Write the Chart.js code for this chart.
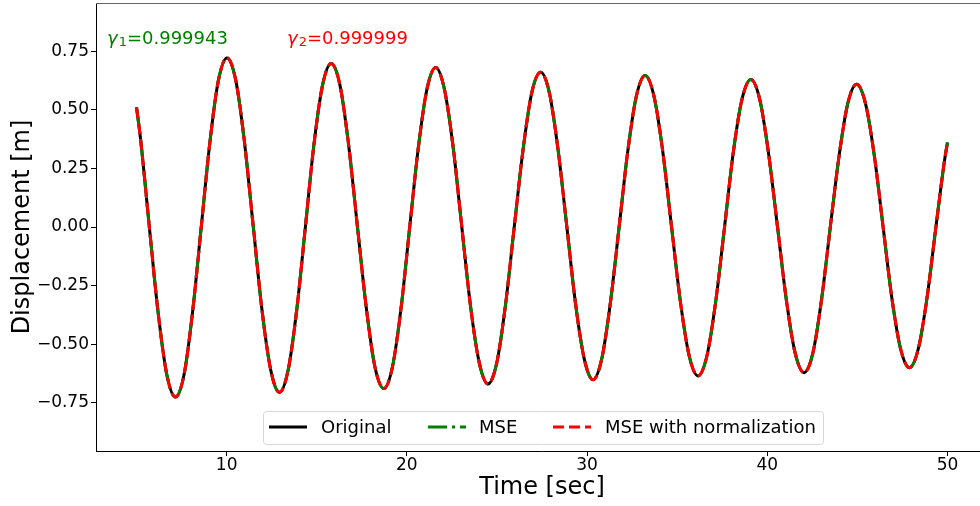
<!DOCTYPE html>
<html>
<head>
<meta charset="utf-8">
<script src="https://cdn.jsdelivr.net/npm/chart.js@4.4.1/dist/chart.umd.min.js"></script>
<style>
  html, body { margin: 0; padding: 0; background: #fff; overflow: hidden; width: 980px; height: 506px; }
  canvas { display: block; }
</style>
</head>
<body>
<canvas id="myChart" width="990" height="506"></canvas>
<script>
// values (peaks, troughs, zero crossings and points between)
const timeSec = [
  5.00, 5.23, 5.71, 6.19, 6.68, 7.16, 7.64, 8.11, 8.59, 9.07, 9.54, 10.02,
  10.51, 10.99, 11.48, 11.96, 12.45, 12.93, 13.41, 13.89, 14.37, 14.84, 15.32, 15.80,
  16.29, 16.77, 17.26, 17.75, 18.23, 18.72, 19.20, 19.68, 20.16, 20.64, 21.12, 21.60,
  22.08, 22.57, 23.05, 23.53, 24.02, 24.50, 24.99, 25.47, 25.96, 26.45, 26.93, 27.42,
  27.91, 28.39, 28.88, 29.36, 29.85, 30.33, 30.81, 31.29, 31.78, 32.26, 32.74, 33.22,
  33.71, 34.20, 34.69, 35.18, 35.67, 36.16, 36.65, 37.14, 37.63, 38.11, 38.60, 39.09,
  39.58, 40.07, 40.57, 41.06, 41.55, 42.04, 42.53, 43.01, 43.50, 43.99, 44.47, 44.96,
  45.45, 45.94, 46.43, 46.91, 47.40, 47.89, 48.38, 48.87, 49.36, 49.84, 50.00
];
const displacementOriginal = [
  0.51, 0.37, 0, -0.36, -0.63, -0.725, -0.628, -0.362, 0, 0.361, 0.624, 0.721,
  0.624, 0.361, 0, -0.353, -0.611, -0.705, -0.611, -0.353, 0, 0.349, 0.604, 0.697,
  0.604, 0.349, 0, -0.345, -0.597, -0.689, -0.597, -0.345, 0, 0.340, 0.589, 0.680,
  0.589, 0.340, 0, -0.335, -0.579, -0.669, -0.579, -0.335, 0, 0.330, 0.572, 0.660,
  0.572, 0.330, 0, -0.326, -0.564, -0.651, -0.564, -0.326, 0, 0.323, 0.559, 0.646,
  0.559, 0.323, 0, -0.318, -0.550, -0.635, -0.550, -0.318, 0, 0.315, 0.545, 0.629,
  0.545, 0.315, 0, -0.311, -0.538, -0.621, -0.538, -0.311, 0, 0.305, 0.527, 0.609,
  0.527, 0.305, 0, -0.300, -0.520, -0.600, -0.520, -0.300, 0, 0.285, 0.36
];
// the two fitted curves lie on top of the original at this resolution
const displacementMSE = displacementOriginal;
const displacementMSENorm = displacementOriginal;

const seriesLabels = ['Original', 'MSE', 'MSE with normalization'];
const xTickValues = [10, 20, 30, 40, 50];
const yTickValues = [-0.75, -0.5, -0.25, 0, 0.25, 0.5, 0.75];
const gammaTexts = ['0.999943', '0.999999'];

const FONT = "'DejaVu Sans', sans-serif";
const colors = ['#000000', '#008000', '#ff0000'];
const dashes = [[], [19, 5, 3, 5], [11, 5]];

function toPoints(values) {
  return timeSec.map((t, i) => ({ x: t, y: values[i] }));
}

function noPad(scale) {
  scale.paddingTop = 0;
  scale.paddingBottom = 0;
  scale.paddingLeft = 0;
  scale.paddingRight = 0;
}

const overlay = {
  id: 'overlay',
  afterDraw(chart) {
    const ctx = chart.ctx;
    const area = chart.chartArea;
    ctx.save();
    // top spine
    ctx.strokeStyle = '#666';
    ctx.lineWidth = 1;
    ctx.beginPath();
    ctx.moveTo(area.left, area.top + 0.5);
    ctx.lineTo(area.right, area.top + 0.5);
    ctx.stroke();

    // gamma annotations
    const gx = [107, 287];
    gammaTexts.forEach((val, i) => {
      let x = gx[i];
      const y = 44;
      ctx.fillStyle = colors[i + 1];
      ctx.textBaseline = 'alphabetic';
      ctx.textAlign = 'left';
      ctx.font = 'italic 18px ' + FONT;
      ctx.fillText('γ', x, y);
      x += ctx.measureText('γ').width + 1;
      ctx.font = '13px ' + FONT;
      ctx.fillText(String(i + 1), x, y + 2);
      x += ctx.measureText(String(i + 1)).width;
      ctx.font = '18px ' + FONT;
      ctx.fillText('=' + val, x, y);
    });

    // legend
    const bx = 263, by = 411, bw = 560, bh = 33;
    ctx.fillStyle = 'rgba(255,255,255,0.8)';
    ctx.strokeStyle = '#d6d6d6';
    ctx.lineWidth = 1;
    ctx.beginPath();
    ctx.roundRect(bx + 0.5, by + 0.5, bw, bh, 3);
    ctx.fill();
    ctx.stroke();
    const handleX = [269, 428, 553];
    const textX = [321, 479, 605];
    const ly = 427;
    seriesLabels.forEach((lab, i) => {
      ctx.strokeStyle = colors[i];
      ctx.lineWidth = 3;
      ctx.setLineDash(dashes[i]);
      ctx.beginPath();
      ctx.moveTo(handleX[i], ly);
      ctx.lineTo(handleX[i] + 38, ly);
      ctx.stroke();
      ctx.setLineDash([]);
      ctx.fillStyle = '#000';
      ctx.font = '18px ' + FONT;
      ctx.textBaseline = 'middle';
      ctx.fillText(lab, textX[i], ly + 1);
    });
    ctx.restore();
  }
};

const ctx = document.getElementById('myChart');

new Chart(ctx, {
  type: 'line',
  data: {
    datasets: [
      {
        label: seriesLabels[0],
        data: toPoints(displacementOriginal),
        borderColor: colors[0],
        borderWidth: 3,
        borderDash: dashes[0],
        order: 3
      },
      {
        label: seriesLabels[1],
        data: toPoints(displacementMSE),
        borderColor: colors[1],
        borderWidth: 3,
        borderDash: dashes[1],
        order: 2
      },
      {
        label: seriesLabels[2],
        data: toPoints(displacementMSENorm),
        borderColor: colors[2],
        borderWidth: 3,
        borderDash: dashes[2],
        order: 1
      }
    ]
  },
  options: {
    responsive: false,
    animation: false,
    devicePixelRatio: 1,
    layout: { padding: { top: 3, right: 2, left: 0, bottom: 0 } },
    plugins: {
      legend: { display: false },
      tooltip: { enabled: false }
    },
    elements: {
      point: { radius: 0 },
      line: { cubicInterpolationMode: 'monotone', fill: false }
    },
    scales: {
      x: {
        type: 'linear',
        min: 2.75,
        max: 52.25,
        afterBuildTicks: (axis) => { axis.ticks = xTickValues.map(v => ({ value: v })); },
        afterFit: (scale) => { scale.height = 55; noPad(scale); },
        ticks: {
          color: '#000',
          font: { family: FONT, size: 17 },
          padding: -1,
          maxRotation: 0,
          autoSkip: false,
          callback: (v) => String(v)
        },
        grid: { drawOnChartArea: false, drawTicks: true, tickLength: 5, tickColor: '#000' },
        border: { color: '#000', width: 1 },
        title: {
          display: true,
          text: 'Time [sec]',
          color: '#000',
          font: { family: FONT, size: 24 },
          padding: { top: 0, bottom: 4 }
        }
      },
      y: {
        min: -0.955,
        max: 0.955,
        afterBuildTicks: (axis) => { axis.ticks = yTickValues.map(v => ({ value: v })); },
        afterFit: (scale) => { scale.width = 96; noPad(scale); },
        ticks: {
          color: '#000',
          font: { family: FONT, size: 17 },
          padding: 2,
          autoSkip: false,
          callback: (v) => (v < 0 ? '\u2212' : '') + Math.abs(v).toFixed(2)
        },
        grid: { drawOnChartArea: false, drawTicks: true, tickLength: 5, tickColor: '#000' },
        border: { color: '#000', width: 1 },
        title: {
          display: true,
          text: 'Displacement [m]',
          color: '#000',
          font: { family: FONT, size: 24 },
          padding: { top: 8, bottom: 0 }
        }
      }
    }
  },
  plugins: [overlay]
});
</script>
</body>
</html>
